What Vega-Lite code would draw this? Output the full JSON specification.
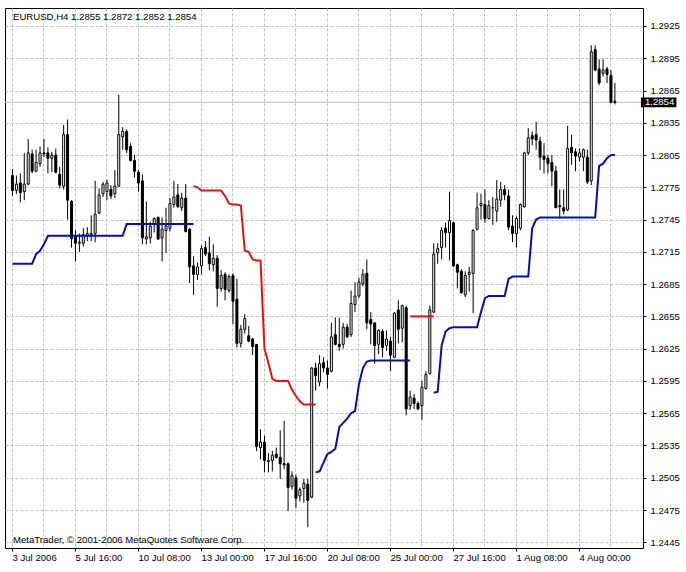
{
  "$schema": "https://vega.github.io/schema/vega-lite/v6.json",
  "autosize": "none",
  "width": 638,
  "height": 540,
  "padding": {"left": 5, "top": 8, "right": 43, "bottom": 24},
  "background": "#ffffff",
  "config": {
    "view": {"stroke": "#000000", "strokeWidth": 1},
    "font": "Liberation Sans"
  },
  "datasets": {
    "candles": [
      {"i":0,"o":1.2786,"h":1.2792,"l":1.2767,"c":1.2772},
      {"i":1,"o":1.2772,"h":1.2786,"l":1.2769,"c":1.2778},
      {"i":2,"o":1.2779,"h":1.2788,"l":1.2761,"c":1.2770},
      {"i":3,"o":1.2771,"h":1.2807,"l":1.2763,"c":1.2778},
      {"i":4,"o":1.2778,"h":1.2820,"l":1.2777,"c":1.2807},
      {"i":5,"o":1.2806,"h":1.2810,"l":1.2788,"c":1.2790},
      {"i":6,"o":1.2790,"h":1.2810,"l":1.2789,"c":1.2798},
      {"i":7,"o":1.2797,"h":1.2813,"l":1.2794,"c":1.2807},
      {"i":8,"o":1.2807,"h":1.2820,"l":1.2803,"c":1.2806},
      {"i":9,"o":1.2807,"h":1.2812,"l":1.2788,"c":1.2802},
      {"i":10,"o":1.2802,"h":1.2808,"l":1.2789,"c":1.2805},
      {"i":11,"o":1.2805,"h":1.2811,"l":1.2788,"c":1.2789},
      {"i":12,"o":1.2787,"h":1.2794,"l":1.2774,"c":1.2777},
      {"i":13,"o":1.2776,"h":1.2833,"l":1.2773,"c":1.2824},
      {"i":14,"o":1.2824,"h":1.2838,"l":1.2745,"c":1.2763},
      {"i":15,"o":1.2762,"h":1.2763,"l":1.2719,"c":1.2727},
      {"i":16,"o":1.2729,"h":1.2735,"l":1.2706,"c":1.2723},
      {"i":17,"o":1.2723,"h":1.2732,"l":1.2715,"c":1.2724},
      {"i":18,"o":1.2723,"h":1.2737,"l":1.2720,"c":1.2731},
      {"i":19,"o":1.2730,"h":1.2738,"l":1.2725,"c":1.2732},
      {"i":20,"o":1.2731,"h":1.2749,"l":1.2725,"c":1.2732},
      {"i":21,"o":1.2732,"h":1.2781,"l":1.2724,"c":1.2750},
      {"i":22,"o":1.2751,"h":1.2774,"l":1.2750,"c":1.2768},
      {"i":23,"o":1.2769,"h":1.2780,"l":1.2766,"c":1.2778},
      {"i":24,"o":1.2771,"h":1.2782,"l":1.2763,"c":1.2779},
      {"i":25,"o":1.2773,"h":1.2777,"l":1.2764,"c":1.2767},
      {"i":26,"o":1.2769,"h":1.2791,"l":1.2765,"c":1.2776},
      {"i":27,"o":1.2776,"h":1.2861,"l":1.2776,"c":1.2824},
      {"i":28,"o":1.2822,"h":1.2831,"l":1.2810,"c":1.2827},
      {"i":29,"o":1.2827,"h":1.2829,"l":1.2807,"c":1.2810},
      {"i":30,"o":1.2813,"h":1.2816,"l":1.2799,"c":1.2800},
      {"i":31,"o":1.2800,"h":1.2805,"l":1.2784,"c":1.2790},
      {"i":32,"o":1.2789,"h":1.2791,"l":1.2771,"c":1.2779},
      {"i":33,"o":1.2781,"h":1.2787,"l":1.2722,"c":1.2728},
      {"i":34,"o":1.2727,"h":1.2762,"l":1.2722,"c":1.2729},
      {"i":35,"o":1.2728,"h":1.2743,"l":1.2723,"c":1.2739},
      {"i":36,"o":1.2741,"h":1.2747,"l":1.2733,"c":1.2746},
      {"i":37,"o":1.2747,"h":1.2748,"l":1.2726,"c":1.2727},
      {"i":38,"o":1.2728,"h":1.2747,"l":1.2706,"c":1.2736},
      {"i":39,"o":1.2735,"h":1.2756,"l":1.2714,"c":1.2739},
      {"i":40,"o":1.2737,"h":1.2765,"l":1.2734,"c":1.2760},
      {"i":41,"o":1.2759,"h":1.2781,"l":1.2756,"c":1.2766},
      {"i":42,"o":1.2768,"h":1.2778,"l":1.2756,"c":1.2757},
      {"i":43,"o":1.2756,"h":1.2770,"l":1.2753,"c":1.2765},
      {"i":44,"o":1.2765,"h":1.2778,"l":1.2733,"c":1.2734},
      {"i":45,"o":1.2736,"h":1.2737,"l":1.2686,"c":1.2701},
      {"i":46,"o":1.2702,"h":1.2711,"l":1.2675,"c":1.2694},
      {"i":47,"o":1.2694,"h":1.2705,"l":1.2689,"c":1.2701},
      {"i":48,"o":1.2702,"h":1.2721,"l":1.2694,"c":1.2718},
      {"i":49,"o":1.2719,"h":1.2725,"l":1.2711,"c":1.2713},
      {"i":50,"o":1.2714,"h":1.2729,"l":1.2698,"c":1.2704},
      {"i":51,"o":1.2703,"h":1.2722,"l":1.2697,"c":1.2709},
      {"i":52,"o":1.2709,"h":1.2712,"l":1.2664,"c":1.2681},
      {"i":53,"o":1.2681,"h":1.2698,"l":1.2678,"c":1.2693},
      {"i":54,"o":1.2694,"h":1.2696,"l":1.2670,"c":1.2680},
      {"i":55,"o":1.2679,"h":1.2694,"l":1.2677,"c":1.2692},
      {"i":56,"o":1.2693,"h":1.2695,"l":1.2648,"c":1.2669},
      {"i":57,"o":1.2671,"h":1.2690,"l":1.2626,"c":1.2630},
      {"i":58,"o":1.2630,"h":1.2647,"l":1.2626,"c":1.2643},
      {"i":59,"o":1.2643,"h":1.2657,"l":1.2639,"c":1.2653},
      {"i":60,"o":1.2637,"h":1.2646,"l":1.2631,"c":1.2632},
      {"i":61,"o":1.2634,"h":1.2635,"l":1.2619,"c":1.2627},
      {"i":62,"o":1.2629,"h":1.2629,"l":1.2530,"c":1.2534},
      {"i":63,"o":1.2533,"h":1.2550,"l":1.2522,"c":1.2538},
      {"i":64,"o":1.2538,"h":1.2544,"l":1.2510,"c":1.2521},
      {"i":65,"o":1.2520,"h":1.2528,"l":1.2510,"c":1.2521},
      {"i":66,"o":1.2521,"h":1.2530,"l":1.2511,"c":1.2526},
      {"i":67,"o":1.2527,"h":1.2533,"l":1.2523,"c":1.2524},
      {"i":68,"o":1.2524,"h":1.2549,"l":1.2504,"c":1.2518},
      {"i":69,"o":1.2518,"h":1.2558,"l":1.2513,"c":1.2517},
      {"i":70,"o":1.2518,"h":1.2519,"l":1.2474,"c":1.2496},
      {"i":71,"o":1.2497,"h":1.2511,"l":1.2494,"c":1.2507},
      {"i":72,"o":1.2505,"h":1.2508,"l":1.2477,"c":1.2486},
      {"i":73,"o":1.2488,"h":1.2496,"l":1.2483,"c":1.2494},
      {"i":74,"o":1.2495,"h":1.2504,"l":1.2482,"c":1.2500},
      {"i":75,"o":1.2499,"h":1.2504,"l":1.2459,"c":1.2484},
      {"i":76,"o":1.2487,"h":1.2608,"l":1.2486,"c":1.2607},
      {"i":77,"o":1.2607,"h":1.2612,"l":1.2586,"c":1.2600},
      {"i":78,"o":1.2594,"h":1.2619,"l":1.2590,"c":1.2611},
      {"i":79,"o":1.2612,"h":1.2617,"l":1.2603,"c":1.2607},
      {"i":80,"o":1.2607,"h":1.2614,"l":1.2588,"c":1.2601},
      {"i":81,"o":1.2604,"h":1.2649,"l":1.2603,"c":1.2636},
      {"i":82,"o":1.2638,"h":1.2654,"l":1.2628,"c":1.2629},
      {"i":83,"o":1.2629,"h":1.2654,"l":1.2623,"c":1.2627},
      {"i":84,"o":1.2629,"h":1.2649,"l":1.2625,"c":1.2645},
      {"i":85,"o":1.2645,"h":1.2648,"l":1.2635,"c":1.2636},
      {"i":86,"o":1.2638,"h":1.2679,"l":1.2636,"c":1.2667},
      {"i":87,"o":1.2666,"h":1.2687,"l":1.2659,"c":1.2674},
      {"i":88,"o":1.2674,"h":1.2691,"l":1.2672,"c":1.2687},
      {"i":89,"o":1.2685,"h":1.2699,"l":1.2683,"c":1.2694},
      {"i":90,"o":1.2695,"h":1.2708,"l":1.2643,"c":1.2649},
      {"i":91,"o":1.2652,"h":1.2659,"l":1.2629,"c":1.2648},
      {"i":92,"o":1.2649,"h":1.2649,"l":1.2611,"c":1.2628},
      {"i":93,"o":1.2629,"h":1.2643,"l":1.2620,"c":1.2642},
      {"i":94,"o":1.2641,"h":1.2643,"l":1.2617,"c":1.2626},
      {"i":95,"o":1.2628,"h":1.2642,"l":1.2623,"c":1.2634},
      {"i":96,"o":1.2632,"h":1.2636,"l":1.2604,"c":1.2619},
      {"i":97,"o":1.2617,"h":1.2659,"l":1.2616,"c":1.2658},
      {"i":98,"o":1.2661,"h":1.2670,"l":1.2630,"c":1.2643},
      {"i":99,"o":1.2644,"h":1.2666,"l":1.2631,"c":1.2665},
      {"i":100,"o":1.2663,"h":1.2665,"l":1.2563,"c":1.2569},
      {"i":101,"o":1.2572,"h":1.2586,"l":1.2568,"c":1.2580},
      {"i":102,"o":1.2579,"h":1.2583,"l":1.2569,"c":1.2574},
      {"i":103,"o":1.2574,"h":1.2576,"l":1.2568,"c":1.2569},
      {"i":104,"o":1.2572,"h":1.2595,"l":1.2559,"c":1.2589},
      {"i":105,"o":1.2588,"h":1.2604,"l":1.2587,"c":1.2601},
      {"i":106,"o":1.2602,"h":1.2665,"l":1.2601,"c":1.2661},
      {"i":107,"o":1.2659,"h":1.2723,"l":1.2658,"c":1.2713},
      {"i":108,"o":1.2714,"h":1.2723,"l":1.2704,"c":1.2718},
      {"i":109,"o":1.2719,"h":1.2738,"l":1.2708,"c":1.2735},
      {"i":110,"o":1.2737,"h":1.2742,"l":1.2719,"c":1.2733},
      {"i":111,"o":1.2733,"h":1.2771,"l":1.2707,"c":1.2744},
      {"i":112,"o":1.2742,"h":1.2743,"l":1.2701,"c":1.2702},
      {"i":113,"o":1.2703,"h":1.2704,"l":1.2681,"c":1.2696},
      {"i":114,"o":1.2697,"h":1.2699,"l":1.2676,"c":1.2677},
      {"i":115,"o":1.2675,"h":1.2697,"l":1.2673,"c":1.2693},
      {"i":116,"o":1.2694,"h":1.2701,"l":1.2678,"c":1.2696},
      {"i":117,"o":1.2695,"h":1.2736,"l":1.2658,"c":1.2735},
      {"i":118,"o":1.2736,"h":1.2770,"l":1.2735,"c":1.2756},
      {"i":119,"o":1.2758,"h":1.2769,"l":1.2745,"c":1.2760},
      {"i":120,"o":1.2759,"h":1.2773,"l":1.2742,"c":1.2746},
      {"i":121,"o":1.2746,"h":1.2763,"l":1.2745,"c":1.2758},
      {"i":122,"o":1.2756,"h":1.2766,"l":1.2740,"c":1.2756},
      {"i":123,"o":1.2753,"h":1.2782,"l":1.2743,"c":1.2764},
      {"i":124,"o":1.2763,"h":1.2780,"l":1.2757,"c":1.2773},
      {"i":125,"o":1.2773,"h":1.2777,"l":1.2763,"c":1.2768},
      {"i":126,"o":1.2767,"h":1.2773,"l":1.2735,"c":1.2738},
      {"i":127,"o":1.2739,"h":1.2749,"l":1.2724,"c":1.2732},
      {"i":128,"o":1.2732,"h":1.2748,"l":1.2719,"c":1.2746},
      {"i":129,"o":1.2737,"h":1.2760,"l":1.2735,"c":1.2759},
      {"i":130,"o":1.2757,"h":1.2808,"l":1.2756,"c":1.2807},
      {"i":131,"o":1.2807,"h":1.2830,"l":1.2805,"c":1.2821},
      {"i":132,"o":1.2823,"h":1.2827,"l":1.2814,"c":1.2820},
      {"i":133,"o":1.2824,"h":1.2836,"l":1.2810,"c":1.2819},
      {"i":134,"o":1.2818,"h":1.2822,"l":1.2791,"c":1.2803},
      {"i":135,"o":1.2804,"h":1.2816,"l":1.2788,"c":1.2801},
      {"i":136,"o":1.2802,"h":1.2805,"l":1.2788,"c":1.2797},
      {"i":137,"o":1.2798,"h":1.2805,"l":1.2776,"c":1.2790},
      {"i":138,"o":1.2790,"h":1.2795,"l":1.2756,"c":1.2756},
      {"i":139,"o":1.2758,"h":1.2773,"l":1.2746,"c":1.2757},
      {"i":140,"o":1.2756,"h":1.2773,"l":1.2750,"c":1.2753},
      {"i":141,"o":1.2754,"h":1.2832,"l":1.2753,"c":1.2811},
      {"i":142,"o":1.2812,"h":1.2824,"l":1.2796,"c":1.2807},
      {"i":143,"o":1.2808,"h":1.2811,"l":1.2790,"c":1.2804},
      {"i":144,"o":1.2803,"h":1.2811,"l":1.2799,"c":1.2807},
      {"i":145,"o":1.2803,"h":1.2811,"l":1.2790,"c":1.2810},
      {"i":146,"o":1.2803,"h":1.2810,"l":1.2778,"c":1.2780},
      {"i":147,"o":1.2781,"h":1.2907,"l":1.2777,"c":1.2901},
      {"i":148,"o":1.2903,"h":1.2907,"l":1.2883,"c":1.2884},
      {"i":149,"o":1.2885,"h":1.2894,"l":1.2870,"c":1.2872},
      {"i":150,"o":1.2881,"h":1.2894,"l":1.2878,"c":1.2884},
      {"i":151,"o":1.2885,"h":1.2887,"l":1.2872,"c":1.2880},
      {"i":152,"o":1.2879,"h":1.2884,"l":1.2853,"c":1.2854},
      {"i":153,"o":1.2855,"h":1.2872,"l":1.2852,"c":1.2854}
    ],
    "stops": [
      {"i":0,"v":1.2704,"s":"b1"},{"i":1,"v":1.2704,"s":"b1"},{"i":2,"v":1.2704,"s":"b1"},{"i":3,"v":1.2704,"s":"b1"},
      {"i":4,"v":1.2704,"s":"b1"},{"i":5,"v":1.2704,"s":"b1"},{"i":6,"v":1.2713,"s":"b1"},{"i":7,"v":1.2716,"s":"b1"},
      {"i":8,"v":1.2722,"s":"b1"},{"i":9,"v":1.2730,"s":"b1"},{"i":10,"v":1.2730,"s":"b1"},{"i":11,"v":1.2730,"s":"b1"},
      {"i":12,"v":1.2730,"s":"b1"},{"i":13,"v":1.2730,"s":"b1"},{"i":14,"v":1.2730,"s":"b1"},{"i":15,"v":1.2730,"s":"b1"},
      {"i":16,"v":1.2730,"s":"b1"},{"i":17,"v":1.2730,"s":"b1"},{"i":18,"v":1.2730,"s":"b1"},{"i":19,"v":1.2730,"s":"b1"},
      {"i":20,"v":1.2730,"s":"b1"},{"i":21,"v":1.2730,"s":"b1"},{"i":22,"v":1.2730,"s":"b1"},{"i":23,"v":1.2730,"s":"b1"},
      {"i":24,"v":1.2730,"s":"b1"},{"i":25,"v":1.2730,"s":"b1"},{"i":26,"v":1.2730,"s":"b1"},{"i":27,"v":1.2730,"s":"b1"},
      {"i":28,"v":1.2730,"s":"b1"},{"i":29,"v":1.2741,"s":"b1"},{"i":30,"v":1.2741,"s":"b1"},{"i":31,"v":1.2741,"s":"b1"},
      {"i":32,"v":1.2741,"s":"b1"},{"i":33,"v":1.2741,"s":"b1"},{"i":34,"v":1.2741,"s":"b1"},{"i":35,"v":1.2741,"s":"b1"},
      {"i":36,"v":1.2741,"s":"b1"},{"i":37,"v":1.2741,"s":"b1"},{"i":38,"v":1.2741,"s":"b1"},{"i":39,"v":1.2741,"s":"b1"},
      {"i":40,"v":1.2741,"s":"b1"},{"i":41,"v":1.2741,"s":"b1"},{"i":42,"v":1.2741,"s":"b1"},{"i":43,"v":1.2741,"s":"b1"},
      {"i":44,"v":1.2741,"s":"b1"},{"i":45,"v":1.2741,"s":"b1"},{"i":46,"v":1.2741,"s":"b1"},
      {"i":46,"v":1.2776,"s":"r1"},{"i":47,"v":1.2775,"s":"r1"},{"i":48,"v":1.2772,"s":"r1"},{"i":49,"v":1.2772,"s":"r1"},
      {"i":50,"v":1.2772,"s":"r1"},{"i":51,"v":1.2772,"s":"r1"},{"i":52,"v":1.2772,"s":"r1"},{"i":53,"v":1.2772,"s":"r1"},
      {"i":54,"v":1.2767,"s":"r1"},{"i":55,"v":1.2760,"s":"r1"},{"i":56,"v":1.2759,"s":"r1"},{"i":57,"v":1.2759,"s":"r1"},
      {"i":58,"v":1.2758,"s":"r1"},{"i":59,"v":1.2716,"s":"r1"},{"i":60,"v":1.2715,"s":"r1"},{"i":61,"v":1.2708,"s":"r1"},
      {"i":62,"v":1.2707,"s":"r1"},{"i":63,"v":1.2707,"s":"r1"},{"i":64,"v":1.2625,"s":"r1"},{"i":65,"v":1.2612,"s":"r1"},
      {"i":66,"v":1.2597,"s":"r1"},{"i":67,"v":1.2595,"s":"r1"},{"i":68,"v":1.2595,"s":"r1"},{"i":69,"v":1.2595,"s":"r1"},
      {"i":70,"v":1.2595,"s":"r1"},{"i":71,"v":1.2587,"s":"r1"},{"i":72,"v":1.2581,"s":"r1"},{"i":73,"v":1.2576,"s":"r1"},
      {"i":74,"v":1.2573,"s":"r1"},{"i":75,"v":1.2573,"s":"r1"},{"i":76,"v":1.2573,"s":"r1"},{"i":77,"v":1.2573,"s":"r1"},
      {"i":77,"v":1.2510,"s":"b2"},{"i":78,"v":1.2511,"s":"b2"},{"i":79,"v":1.2519,"s":"b2"},{"i":80,"v":1.2527,"s":"b2"},
      {"i":81,"v":1.2529,"s":"b2"},{"i":82,"v":1.2532,"s":"b2"},{"i":83,"v":1.2552,"s":"b2"},{"i":84,"v":1.2556,"s":"b2"},
      {"i":85,"v":1.2560,"s":"b2"},{"i":86,"v":1.2565,"s":"b2"},{"i":87,"v":1.2567,"s":"b2"},{"i":88,"v":1.2592,"s":"b2"},
      {"i":89,"v":1.2607,"s":"b2"},{"i":90,"v":1.2613,"s":"b2"},{"i":91,"v":1.2614,"s":"b2"},{"i":92,"v":1.2614,"s":"b2"},
      {"i":93,"v":1.2614,"s":"b2"},{"i":94,"v":1.2614,"s":"b2"},{"i":95,"v":1.2614,"s":"b2"},{"i":96,"v":1.2614,"s":"b2"},
      {"i":97,"v":1.2614,"s":"b2"},{"i":98,"v":1.2614,"s":"b2"},{"i":99,"v":1.2614,"s":"b2"},{"i":100,"v":1.2614,"s":"b2"},
      {"i":101,"v":1.2614,"s":"b2"},
      {"i":101,"v":1.2655,"s":"r2"},{"i":102,"v":1.2655,"s":"r2"},{"i":103,"v":1.2655,"s":"r2"},{"i":104,"v":1.2655,"s":"r2"},
      {"i":105,"v":1.2655,"s":"r2"},{"i":106,"v":1.2655,"s":"r2"},{"i":107,"v":1.2655,"s":"r2"},
      {"i":107,"v":1.2584,"s":"b3"},{"i":108,"v":1.2585,"s":"b3"},{"i":109,"v":1.2628,"s":"b3"},{"i":110,"v":1.2641,"s":"b3"},
      {"i":111,"v":1.2644,"s":"b3"},{"i":112,"v":1.2645,"s":"b3"},{"i":113,"v":1.2645,"s":"b3"},{"i":114,"v":1.2645,"s":"b3"},
      {"i":115,"v":1.2645,"s":"b3"},{"i":116,"v":1.2645,"s":"b3"},{"i":117,"v":1.2645,"s":"b3"},{"i":118,"v":1.2645,"s":"b3"},
      {"i":119,"v":1.2659,"s":"b3"},{"i":120,"v":1.2672,"s":"b3"},{"i":121,"v":1.2674,"s":"b3"},{"i":122,"v":1.2674,"s":"b3"},
      {"i":123,"v":1.2674,"s":"b3"},{"i":124,"v":1.2674,"s":"b3"},{"i":125,"v":1.2674,"s":"b3"},{"i":126,"v":1.2690,"s":"b3"},
      {"i":127,"v":1.2692,"s":"b3"},{"i":128,"v":1.2692,"s":"b3"},{"i":129,"v":1.2692,"s":"b3"},{"i":130,"v":1.2692,"s":"b3"},
      {"i":131,"v":1.2692,"s":"b3"},{"i":132,"v":1.2737,"s":"b3"},{"i":133,"v":1.2745,"s":"b3"},{"i":134,"v":1.2747,"s":"b3"},
      {"i":135,"v":1.2747,"s":"b3"},{"i":136,"v":1.2747,"s":"b3"},{"i":137,"v":1.2747,"s":"b3"},{"i":138,"v":1.2747,"s":"b3"},
      {"i":139,"v":1.2747,"s":"b3"},{"i":140,"v":1.2747,"s":"b3"},{"i":141,"v":1.2747,"s":"b3"},{"i":142,"v":1.2747,"s":"b3"},
      {"i":143,"v":1.2747,"s":"b3"},{"i":144,"v":1.2747,"s":"b3"},{"i":145,"v":1.2747,"s":"b3"},{"i":146,"v":1.2747,"s":"b3"},
      {"i":147,"v":1.2747,"s":"b3"},{"i":148,"v":1.2747,"s":"b3"},{"i":149,"v":1.2795,"s":"b3"},{"i":150,"v":1.2797,"s":"b3"},
      {"i":151,"v":1.2802,"s":"b3"},{"i":152,"v":1.2805,"s":"b3"},{"i":153,"v":1.2805,"s":"b3"}
    ]
  },
  "encoding": {
    "x": {
      "type": "quantitative",
      "scale": {"domain": [-0.5, 159], "nice": false, "zero": false},
      "axis": {
        "values": [0, 8, 16, 24, 32, 40, 48, 56, 64, 72, 80, 88, 96, 104, 112, 120, 128, 136, 144, 152],
        "title": null,
        "domain": false,
        "grid": true,
        "gridColor": "#c0c0c0",
        "gridDash": [3, 2],
        "tickSize": 3,
        "tickColor": {"condition": {"test": "datum.value % 16 != 0", "value": "transparent"}, "value": "#000000"},
        "labelExpr": "datum.value % 16 == 0 ? ['3 Jul 2006','5 Jul 16:00','10 Jul 08:00','13 Jul 00:00','17 Jul 16:00','20 Jul 08:00','25 Jul 00:00','27 Jul 16:00','1 Aug 08:00','4 Aug 00:00'][datum.value / 16] : ''",
        "labelAlign": "left",
        "labelBaseline": "top",
        "labelPadding": 1,
        "labelFont": "Liberation Sans",
        "labelFontSize": 9.6,
        "labelColor": "#000000",
        "labelOverlap": false,
        "labelBound": false,
        "labelFlush": false
      }
    },
    "y": {
      "type": "quantitative",
      "scale": {"domain": [1.24397, 1.29417], "nice": false, "zero": false},
      "axis": {
        "orient": "right",
        "values": [1.2445, 1.2475, 1.2505, 1.2535, 1.2565, 1.2595, 1.2625, 1.2655, 1.2685, 1.2715, 1.2745, 1.2775, 1.2805, 1.2835, 1.2865, 1.2895, 1.2925],
        "format": ".4f",
        "title": null,
        "domain": false,
        "grid": true,
        "gridColor": "#c0c0c0",
        "gridDash": [3, 2],
        "tickSize": 3,
        "tickColor": "#000000",
        "labelPadding": 4,
        "labelFont": "Liberation Sans",
        "labelFontSize": 9.6,
        "labelColor": "#000000",
        "labelOverlap": false,
        "labelBound": false
      }
    }
  },
  "layer": [
    {
      "data": {"values": [{"p": 1.2854}]},
      "mark": {"type": "rule", "color": "#c0c0c0", "strokeWidth": 1},
      "encoding": {
        "y": {"field": "p", "type": "quantitative"}
      }
    },
    {
      "data": {"name": "candles"},
      "mark": {"type": "rule", "color": "#000000", "strokeWidth": 1, "xOffset": 0.5},
      "encoding": {
        "x": {"field": "i", "type": "quantitative"},
        "y": {"field": "l", "type": "quantitative"},
        "y2": {"field": "h"}
      }
    },
    {
      "data": {"name": "candles"},
      "mark": {"type": "bar", "width": 2, "stroke": "#000000", "strokeWidth": 1, "xOffset": 0.5},
      "encoding": {
        "x": {"field": "i", "type": "quantitative"},
        "y": {"field": "o", "type": "quantitative"},
        "y2": {"field": "c"},
        "fill": {"condition": {"test": "datum.c < datum.o", "value": "#000000"}, "value": "#ffffff"}
      }
    },
    {
      "data": {"name": "stops"},
      "mark": {"type": "line", "strokeWidth": 2, "xOffset": 0.5},
      "encoding": {
        "x": {"field": "i", "type": "quantitative"},
        "y": {"field": "v", "type": "quantitative"},
        "color": {
          "field": "s", "type": "nominal", "legend": null,
          "scale": {"domain": ["b1", "r1", "b2", "r2", "b3"], "range": ["#0c0cb0", "#e01414", "#0c0cb0", "#e01414", "#0c0cb0"]}
        }
      }
    },
    {
      "data": {"values": [{"t": "EURUSD,H4  1.2855 1.2872 1.2852 1.2854", "x": -0.5, "p": 1.29334}]},
      "mark": {"type": "text", "align": "left", "baseline": "middle", "dx": 3, "font": "Liberation Sans", "fontSize": 9.6, "color": "#000000"},
      "encoding": {
        "x": {"field": "x", "type": "quantitative"},
        "y": {"field": "p", "type": "quantitative"},
        "text": {"field": "t"}
      }
    },
    {
      "data": {"values": [{"t": "MetaTrader, © 2001-2006 MetaQuotes Software Corp.", "x": -0.5, "p": 1.24471}]},
      "mark": {"type": "text", "align": "left", "baseline": "middle", "dx": 3, "font": "Liberation Sans", "fontSize": 9.6, "color": "#000000"},
      "encoding": {
        "x": {"field": "x", "type": "quantitative"},
        "y": {"field": "p", "type": "quantitative"},
        "text": {"field": "t"}
      }
    },
    {
      "data": {"values": [{"a": 159.75, "b": 168.75, "lo": 1.28495, "hi": 1.28585}]},
      "mark": {"type": "rect", "color": "#000000"},
      "encoding": {
        "x": {"field": "a", "type": "quantitative"},
        "x2": {"field": "b"},
        "y": {"field": "lo", "type": "quantitative"},
        "y2": {"field": "hi"}
      }
    },
    {
      "data": {"values": [{"t": "1.2854", "x": 160.75, "p": 1.2854}]},
      "mark": {"type": "text", "align": "left", "baseline": "middle", "font": "Liberation Sans", "fontSize": 9.6, "color": "#ffffff"},
      "encoding": {
        "x": {"field": "x", "type": "quantitative"},
        "y": {"field": "p", "type": "quantitative"},
        "text": {"field": "t"}
      }
    }
  ]
}
